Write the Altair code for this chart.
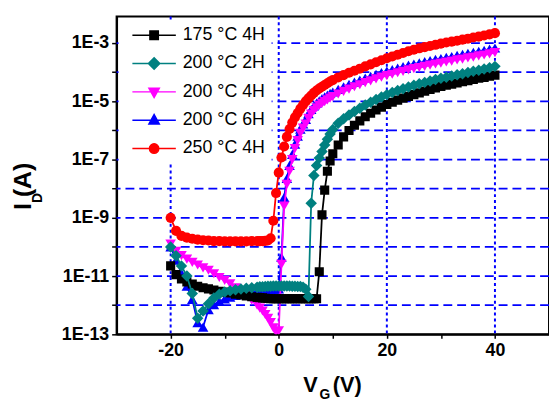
import altair as alt
import pandas as pd

# ---------------- data ----------------
SERIES = ["175 °C 4H", "200 °C 2H", "200 °C 4H", "200 °C 6H", "250 °C 4H"]
COLORS = ["#000000", "#008080", "#ff00ff", "#0000ff", "#ff0000"]
SHAPES = ["square", "diamond", "triangle-down", "triangle-up", "circle"]
SIZES = [85, 135, 115, 115, 105]

# gate voltage (V)
VG = [-20, -19, -18, -17, -16, -15, -14, -13, -12, -11, -10, -9, -8, -7, -6, -5, -4,
      -3.5, -3, -2.5, -2, -1.5, -1, -0.5, 0, 0.5, 1, 1.5, 2, 2.5, 3, 3.5, 4, 4.5,
      5, 5.5, 6, 6.5, 7, 7.5, 8, 8.5, 9, 9.5, 10,
      11, 12, 13, 14, 15, 16, 17, 18, 19, 20, 21, 22, 23, 24, 25, 26, 27, 28, 29, 30,
      31, 32, 33, 34, 35, 36, 37, 38, 39, 40]

# log10(I_D / A) for each series
LOG_175_4H = [-10.65, -10.95, -11.1, -11.2, -11.27, -11.35, -11.4, -11.44, -11.48, -11.52,
              -11.55, -11.58, -11.62, -11.65, -11.68, -11.71, -11.73,
              -11.74, -11.75, -11.76, -11.77, -11.78, -11.78, -11.78, -11.78, -11.78, -11.78,
              -11.78, -11.78, -11.78, -11.78, -11.78, -11.78, -11.78, -11.78, -11.78, -11.78,
              -11.78, -11.78, -10.85, -8.9, -8.05, -7.4, -7.05, -6.8,
              -6.5, -6.22, -6.0, -5.82, -5.67, -5.53, -5.41, -5.3, -5.2, -5.11,
              -5.03, -4.96, -4.89, -4.83, -4.77, -4.71, -4.65, -4.59, -4.54, -4.49,
              -4.45, -4.41, -4.37, -4.33, -4.29, -4.25, -4.21, -4.18, -4.14, -4.1]
LOG_200_2H = [-10.0, -10.3, -10.65, -11.0, -11.6, -12.45, -12.2, -11.95, -11.75, -11.62,
              -11.55, -11.5, -11.47, -11.44, -11.42, -11.4, -11.38,
              -11.37, -11.37, -11.36, -11.35, -11.35, -11.34, -11.34, -11.34, -11.34, -11.34,
              -11.34, -11.34, -11.35, -11.35, -11.36, -11.36, -11.38, -11.45, -11.7, -8.5,
              -7.55, -7.2, -6.95, -6.72, -6.5, -6.3, -6.12, -5.97,
              -5.75, -5.6, -5.47, -5.35, -5.24, -5.13, -5.03, -4.94, -4.85, -4.77,
              -4.7, -4.63, -4.57, -4.51, -4.45, -4.4, -4.35, -4.3, -4.25, -4.21,
              -4.17, -4.13, -4.09, -4.05, -4.01, -3.97, -3.93, -3.89, -3.85, -3.8]
LOG_200_4H = [-9.9, -10.15, -10.3, -10.42, -10.53, -10.62, -10.72, -10.8, -10.92, -11.05,
              -11.15, -11.27, -11.4, -11.53, -11.67, -11.83, -12.0,
              -12.1, -12.2, -12.32, -12.45, -12.6, -12.78, -12.92, -12.88, -10.6, -8.6,
              -7.85, -7.4, -7.0, -6.62, -6.35, -6.1, -5.92, -5.78, -5.58, -5.44,
              -5.32, -5.22, -5.14, -5.07, -5.01, -4.95, -4.89, -4.84,
              -4.75, -4.66, -4.58, -4.5, -4.43, -4.36, -4.3, -4.23, -4.17, -4.12,
              -4.07, -4.02, -3.97, -3.92, -3.88, -3.84, -3.8, -3.76, -3.72, -3.69,
              -3.65, -3.62, -3.58, -3.55, -3.51, -3.48, -3.44, -3.41, -3.37, -3.33]
LOG_200_6H = [-10.0, -10.45, -10.9, -11.35, -11.8, -12.6, -12.75, -12.15, -11.98, -11.87,
              -11.78, -11.72, -11.66, -11.61, -11.57, -11.54, -11.51,
              -11.5, -11.49, -11.48, -11.47, -11.46, -11.45, -11.45, -11.44, -10.35, -8.3,
              -7.65, -7.2, -6.82, -6.47, -6.2, -5.96, -5.78, -5.62, -5.42, -5.28,
              -5.16, -5.06, -4.98, -4.91, -4.85, -4.79, -4.73, -4.68,
              -4.59, -4.5, -4.42, -4.34, -4.27, -4.2, -4.14, -4.07, -4.01, -3.96,
              -3.91, -3.86, -3.81, -3.76, -3.72, -3.68, -3.64, -3.6, -3.56, -3.53,
              -3.49, -3.46, -3.42, -3.39, -3.35, -3.32, -3.28, -3.25, -3.21, -3.17]
LOG_250_4H = [-9.0, -9.45, -9.62, -9.68, -9.72, -9.75, -9.77, -9.78, -9.8, -9.8,
              -9.81, -9.81, -9.81, -9.81, -9.81, -9.8, -9.8,
              -9.8, -9.8, -9.79, -9.78, -9.7, -9.1, -8.15, -7.45, -6.93, -6.55,
              -6.22, -5.95, -5.73, -5.55, -5.4, -5.25, -5.12, -5.0, -4.9, -4.8,
              -4.71, -4.63, -4.56, -4.5, -4.44, -4.38, -4.32, -4.27,
              -4.18, -4.1, -4.02, -3.95, -3.88, -3.8, -3.73, -3.66, -3.59, -3.52,
              -3.46, -3.4, -3.34, -3.28, -3.23, -3.18, -3.14, -3.1, -3.06, -3.02,
              -2.98, -2.95, -2.92, -2.88, -2.85, -2.81, -2.78, -2.74, -2.7, -2.66]
LOGS = [LOG_175_4H, LOG_200_2H, LOG_200_4H, LOG_200_6H, LOG_250_4H]

X_TICKS = [-20, -10, 0, 10, 20, 30, 40]
X_GRID = [-20, 0, 20, 40]
Y_TICKS = [1e-13, 1e-12, 1e-11, 1e-10, 1e-9, 1e-8, 1e-7, 1e-6, 1e-5, 1e-4, 1e-3]
Y_GRID = [1e-12, 1e-11, 1e-10, 1e-9, 1e-8, 1e-7, 1e-6, 1e-5, 1e-4, 1e-3]

# legend glyphs: a line segment through the marker (unit box = 5 px)
LEG_PATHS = [
    "M-4.4,0H4.4M-0.85,-0.85H0.85V0.85H-0.85Z",
    "M-4.4,0H4.4M0,-1.15L1.15,0L0,1.15L-1.15,0Z",
    "M-4.4,0H4.4M-1.05,-0.75H1.05L0,1.15Z",
    "M-4.4,0H4.4M-1.05,0.75H1.05L0,-1.15Z",
    "M-4.4,0H4.4M-0.95,0A0.95,0.95,0,1,0,0.95,0A0.95,0.95,0,1,0,-0.95,0Z",
]

rows = []
for name, logs in zip(SERIES, LOGS):
    for v, lg in zip(VG, logs):
        rows.append({"series": name, "vg": v, "id": 10 ** lg})
df = pd.DataFrame(rows)

FONT = "Liberation Sans"

x_scale = alt.Scale(domain=[-30, 50], nice=False, zero=False)
y_scale = alt.Scale(type="log", domain=[1e-13, 8.2e-3], nice=False)

x_axis = alt.Axis(values=X_TICKS, grid=False, title=None, tickSize=4, labelPadding=3,
                  labelExpr="datum.value % 20 == 0 ? '' + datum.value : ''")
y_axis = alt.Axis(values=Y_TICKS, grid=False, title=None, tickSize=5, labelPadding=3,
                  labelExpr="(round(log(datum.value) / LN10) % 2 != 0) ? '1E' + round(log(datum.value) / LN10) : ''")

X = alt.X("vg:Q", scale=x_scale, axis=x_axis)
Y = alt.Y("id:Q", scale=y_scale, axis=y_axis)

layers = []

# grid lines (drawn from the grid arrays)
layers.append(
    alt.Chart(pd.DataFrame({"id": Y_GRID})).mark_rule(
        color="#0000ff", strokeWidth=1.8, strokeDash=[9, 5]
    ).encode(y=Y)
)
layers.append(
    alt.Chart(pd.DataFrame({"vg": X_GRID})).mark_rule(
        color="#0000ff", strokeWidth=2, strokeDash=[3, 3]
    ).encode(x=X)
)

base = alt.Chart(df)
draw_order = [4, 3, 2, 0, 1]
for i in draw_order:
    name = SERIES[i]
    sub = base.transform_filter(alt.datum.series == name)
    layers.append(sub.mark_line(color=COLORS[i], strokeWidth=1.8, clip=True).encode(x=X, y=Y))
    layers.append(
        sub.mark_point(filled=True, shape=SHAPES[i], size=SIZES[i], color=COLORS[i],
                       opacity=1, clip=True).encode(x=X, y=Y)
    )

LEG = alt.Legend(
    title=None, orient="none", legendX=2, legendY=4, padding=6, fillColor="white",
    symbolSize=100, symbolStrokeWidth=1.5, symbolOffset=21, labelOffset=20,
    labelFont=FONT, labelFontSize=18, labelColor="black", rowPadding=10.7, labelLimit=0,
)
col_scale = alt.Scale(domain=SERIES, range=COLORS)
layers.append(
    base.transform_filter("false").mark_point(filled=True, opacity=1).encode(
        x=X, y=Y,
        fill=alt.Fill("series:N", scale=col_scale, legend=LEG),
        stroke=alt.Stroke("series:N", scale=col_scale, legend=LEG),
        shape=alt.Shape("series:N", scale=alt.Scale(domain=SERIES, range=LEG_PATHS), legend=LEG),
    )
)

# axis titles with subscripts
one = pd.DataFrame({"k": [0]})
def txt(t, x, y, size, angle=0):
    return alt.Chart(one).mark_text(
        text=t, font=FONT, fontWeight="bold", fontSize=size, align="left",
        baseline="alphabetic", angle=angle, color="black"
    ).encode(x=alt.value(x), y=alt.value(y))

layers += [
    txt("I", -87, 196, 25, 270),
    txt("D", -76, 189, 14, 270),
    txt("(A)", -87, 183, 25, 270),
    txt("V", 189, 380, 22),
    txt("G", 205.5, 388, 14),
    txt("(V)", 219, 380, 22),
]

chart = alt.layer(*layers).properties(
    width=438, height=322,
    autosize=alt.AutoSizeParams(type="none"),
    padding={"left": 110, "top": 6, "right": 0, "bottom": 67},
).configure_view(
    stroke="black", strokeWidth=2
).configure_axis(
    domainColor="black", domainWidth=2, tickColor="black", tickWidth=1.5,
    labelFont=FONT, labelFontWeight="bold", labelFontSize=18, labelColor="black",
)

chart.save("out.html", embed_options={"renderer": "svg", "actions": False})
